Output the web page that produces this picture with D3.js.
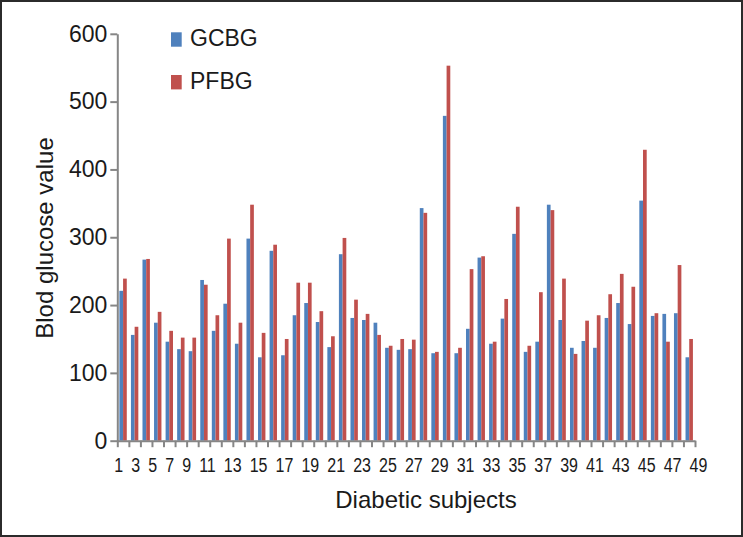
<!DOCTYPE html>
<html><head><meta charset="utf-8">
<script src="https://cdn.jsdelivr.net/npm/d3@7"></script>
<style>body{margin:0;background:#fff} svg{display:block}</style>
</head><body>
<svg id="c" width="743" height="537"></svg>
<script>
const subjects = [1,2,3,4,5,6,7,8,9,10,11,12,13,14,15,16,17,18,19,20,21,22,23,24,25,26,27,28,29,30,31,32,33,34,35,36,37,38,39,40,41,42,43,44,45,46,47,48,49,50];
const gcbg = [221,156,267,174,146,135,132,237,162,202,143,298,123,280,126,185,203,175,138,275,181,178,174,137,134,135,343,129,479,129,165,270,143,180,305,131,146,348,178,137,147,137,181,203,172,354,184,187,188,123];
const pfbg = [239,168,268,190,162,152,152,230,185,298,174,348,159,289,150,233,233,191,154,299,208,187,156,140,150,149,336,131,553,137,253,272,146,209,345,140,219,340,239,128,177,185,216,246,227,429,188,146,259,150];
const seriesNames = ["GCBG","PFBG"];
const seriesColors = ["#4F81BD","#C0504D"];
const yTicks = [0,100,200,300,400,500,600];
const xTickLabels = ["1","3","5","7","9","11","13","15","17","19","21","23","25","27","29","31","33","35","37","39","41","43","45","47","49"];
const xTitle = "Diabetic subjects";
const yTitle = "Blod glucose value";

const W = 743, H = 537;
const pLeft = 117.3, pRight = 695, pTop = 33.8, pBottom = 440.7;
const FONT = "'Liberation Sans', Arial, sans-serif";
const axisColor = "#868686";
const textColor = "#1a1a1a";

const svg = d3.select("#c");
svg.append("rect").attr("x",1).attr("y",1).attr("width",W-2).attr("height",H-2)
  .attr("fill","#fff").attr("stroke","#2b2b2b").attr("stroke-width",2);

const x = d3.scaleBand().domain(subjects).range([pLeft,pRight]).padding(0);
const xs = d3.scaleBand().domain(seriesNames).range([x.bandwidth()*0.18, x.bandwidth()*0.82]).padding(0);
const y = d3.scaleLinear().domain([0,600]).range([pBottom,pTop]);
const color = d3.scaleOrdinal().domain(seriesNames).range(seriesColors);

// bars
const rows = subjects.map((s,i)=>({s, vals:[{name:seriesNames[0], v:gcbg[i]},{name:seriesNames[1], v:pfbg[i]}]}));
svg.append("g").selectAll("g").data(rows).join("g")
  .attr("transform", d=>`translate(${x(d.s)},0)`)
  .selectAll("rect").data(d=>d.vals).join("rect")
  .attr("x", d=>xs(d.name)).attr("width", xs.bandwidth())
  .attr("y", d=>y(d.v)).attr("height", d=>y(0)-y(d.v))
  .attr("fill", d=>color(d.name));

// y axis
const yAxis = svg.append("g").attr("transform",`translate(${pLeft},0)`)
  .call(d3.axisLeft(y).tickValues(yTicks).tickSize(7).tickPadding(3).tickSizeOuter(0));
yAxis.select(".domain").attr("stroke",axisColor).attr("stroke-width",2);
yAxis.selectAll(".tick line").attr("stroke",axisColor).attr("stroke-width",2);
yAxis.selectAll(".tick text").attr("font-family",FONT).attr("font-size",23).attr("fill",textColor);

// x axis: tick marks at category boundaries
const xb = d3.scaleLinear().domain([0, subjects.length]).range([pLeft,pRight]);
const xAxis = svg.append("g").attr("transform",`translate(0,${pBottom})`)
  .call(d3.axisBottom(xb).tickValues(d3.range(subjects.length+1)).tickFormat("").tickSize(6.5).tickSizeOuter(0));
xAxis.select(".domain").attr("stroke",axisColor).attr("stroke-width",2);
xAxis.selectAll(".tick line").attr("stroke",axisColor).attr("stroke-width",2);

// x tick labels, laid out as a packed run
const sx = 0.8, lblStart = 114.3, lblEnd = 707.3, lblBase = 472;
const lg = svg.append("g");
const lbls = lg.selectAll("text").data(xTickLabels).join("text")
  .attr("font-family",FONT).attr("font-size",20).attr("fill",textColor).text(d=>d);
const widths = lbls.nodes().map(n=>n.getComputedTextLength()*sx);
const total = d3.sum(widths);
const gap = (lblEnd - lblStart - total)/(xTickLabels.length-1);
let cx = lblStart;
const pos = widths.map(w=>{const p=cx; cx += w + gap; return p;});
lbls.attr("transform",(d,i)=>`translate(${pos[i]},${lblBase}) scale(${sx},1)`);

// legend
const leg = svg.append("g").selectAll("g").data(seriesNames).join("g")
  .attr("transform",(d,i)=>`translate(171,${32.3 + i*42.7})`);
leg.append("rect").attr("width",10.7).attr("height",14.4).attr("fill",d=>color(d));
leg.append("text").attr("x",19).attr("y",13.6).attr("font-family",FONT).attr("font-size",23)
  .attr("fill",textColor).text(d=>d);

// titles
svg.append("text").attr("x",426).attr("y",508).attr("text-anchor","middle")
  .attr("font-family",FONT).attr("font-size",24).attr("fill",textColor).text(xTitle);
svg.append("text").attr("transform","translate(53,238) rotate(-90)").attr("text-anchor","middle")
  .attr("font-family",FONT).attr("font-size",24).attr("fill",textColor).text(yTitle);
</script>
</body></html>
